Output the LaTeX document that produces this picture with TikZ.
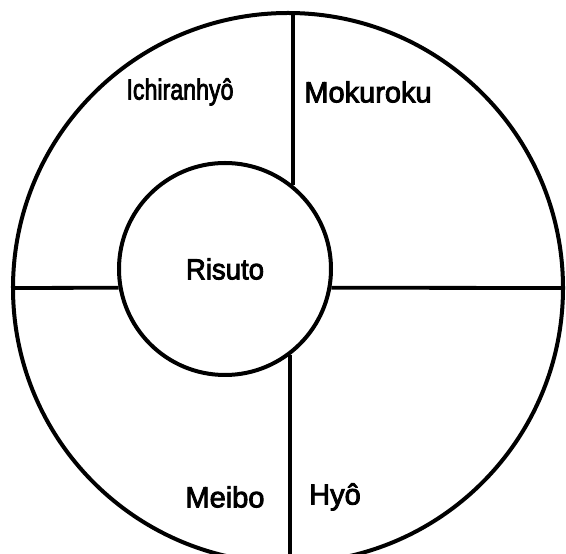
\documentclass[tikz,border=0pt]{standalone}
\usepackage{fontspec}
\setmainfont{Liberation Sans}
\newfontfamily\heavyfont[FakeBold=3]{Liberation Sans}
\begin{document}
\begin{tikzpicture}[x=1pt,y=1pt,
  ring/.style={draw, circle, line width=4pt, inner sep=0pt},
  divider/.style={line width=3.8pt},
  lab/.style={font=\heavyfont\fontsize{29}{32}\selectfont, inner sep=0pt}]
\useasboundingbox (0,0) rectangle (566,554);
\clip (0,0) rectangle (566,554);
\fill[white] (0,0) rectangle (566,554);
\node[ring, minimum size=550pt] (outer) at (288,266) {};
\node[ring, minimum size=212pt, lab] (inner) at (225,285) {\scalebox{0.95}[1]{Risuto}};
\draw[divider] (outer.west) -- (inner.190.3);
\draw[divider] (inner.-10.3) -- (outer.east);
\draw[divider] (inner.51.5) -- (inner.51.5 |- outer.north);
\draw[divider] (inner.-53.5) -- (inner.-53.5 |- outer.south);
\node[lab] (ichi) at (180,462) {\scalebox{0.8}[1]{Ichiranhyô}};
\node[lab] (moku) at (368,462) {Mokuroku};
\node[lab] (meibo) at (225,57) {Meibo};
\node[lab] (hyo) at (335,57) {Hyô};
\end{tikzpicture}
\end{document}
